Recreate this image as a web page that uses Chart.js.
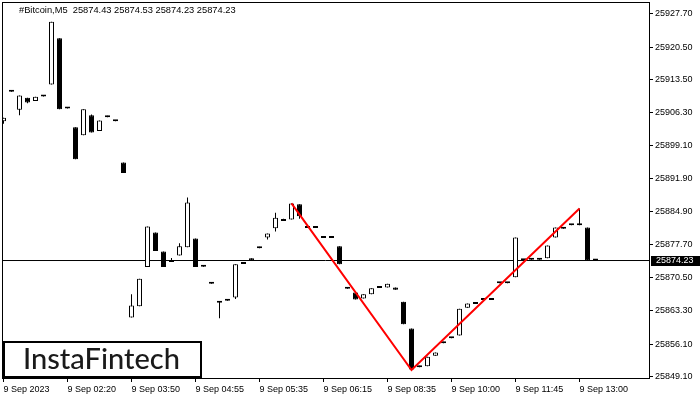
<!DOCTYPE html>
<html><head><meta charset="utf-8">
<script src="https://cdn.jsdelivr.net/npm/chart.js@4.4.0/dist/chart.umd.min.js"></script>
<style>html,body{margin:0;padding:0;background:#fff;}</style>
</head><body>
<canvas id="c" width="700" height="400"></canvas>
<script>
const symbol = '#Bitcoin,M5';
const brand = 'InstaFintech';
const timeLabels = ['9 Sep 2023','9 Sep 02:20','9 Sep 03:50','9 Sep 04:55','9 Sep 05:35','9 Sep 06:15','9 Sep 08:35','9 Sep 10:00','9 Sep 11:45','9 Sep 13:00'];
const barsPerLabel = 8;
const opens = [25904.4,25911.1,25906.9,25909.5,25908.8,25910.0,25912.4,25922.4,25907.5,25903.1,
  25901.4,25905.7,25902.3,25905.6,25904.7,25895.5,25861.9,25864.3,25872.8,25880.3,
  25876.2,25874.2,25875.3,25877.1,25879.0,25873.2,25869.5,25865.4,25865.8,25866.2,
  25873.8,25874.7,25877.2,25879.2,25881.2,25883.0,25883.1,25886.4,25881.5,25881.5,
  25879.3,25879.3,25877.3,25868.3,25867.3,25866.0,25866.9,25868.6,25868.4,25868.4,
  25865.3,25859.5,25851.4,25851.3,25853.6,25856.6,25857.6,25858.0,25864.0,25865.0,
  25865.9,25865.9,25869.5,25869.5,25870.6,25874.5,25874.6,25874.6,25874.7,25879.2,
  25881.4,25882.1,25882.1,25881.4,25874.43];
const closes = [25905.2,25910.8,25910.0,25908.5,25909.7,25909.8,25926.0,25907.0,25907.2,25896.2,
  25907.0,25902.0,25904.6,25905.3,25904.4,25893.2,25864.5,25870.3,25881.6,25876.3,
  25872.8,25873.9,25877.3,25886.8,25872.8,25872.9,25869.2,25865.1,25865.5,25873.4,
  25873.5,25874.2,25876.9,25880.1,25883.5,25882.8,25886.6,25883.8,25881.3,25881.3,
  25879.1,25879.1,25873.4,25868.1,25865.8,25866.9,25868.2,25868.3,25869.2,25867.9,
  25860.4,25850.6,25851.1,25853.4,25854.3,25856.3,25857.4,25863.8,25864.9,25864.8,
  25865.7,25865.7,25869.3,25869.3,25879.2,25874.3,25874.4,25874.4,25877.5,25881.4,
  25881.1,25881.9,25881.9,25874.2,25874.23];
const highs = [25905.2,25911.1,25910.0,25909.5,25909.7,25910.0,25926.0,25922.4,25907.5,25903.1,
  25907.0,25905.9,25904.6,25905.6,25904.7,25895.5,25866.9,25870.3,25881.6,25880.3,
  25876.2,25874.8,25878.0,25887.9,25879.0,25873.2,25869.5,25865.4,25865.8,25873.4,
  25873.8,25874.7,25877.2,25880.1,25884.6,25883.3,25886.6,25886.4,25881.5,25881.5,
  25879.3,25879.3,25877.3,25868.3,25867.3,25866.9,25868.2,25868.6,25869.2,25868.4,
  25865.3,25859.5,25851.4,25853.4,25854.3,25856.6,25857.6,25863.8,25864.9,25865.0,
  25865.9,25865.9,25869.5,25869.5,25879.2,25874.5,25874.6,25874.6,25877.5,25881.4,
  25881.4,25882.1,25885.5,25881.4,25874.53];
const lows = [25903.9,25910.8,25905.7,25908.3,25908.8,25909.8,25912.4,25907.0,25907.2,25896.2,
  25901.4,25902.0,25902.3,25905.3,25904.4,25893.2,25861.9,25864.3,25872.8,25876.3,
  25872.8,25873.9,25875.3,25877.1,25872.8,25872.9,25869.2,25861.7,25865.5,25865.9,
  25873.5,25874.2,25876.9,25878.8,25880.5,25882.8,25883.1,25883.3,25881.3,25881.3,
  25879.1,25879.1,25873.4,25868.1,25865.8,25866.0,25866.9,25868.3,25868.4,25867.9,
  25860.4,25850.6,25851.1,25851.3,25853.6,25856.3,25857.4,25858.0,25864.0,25864.8,
  25865.7,25865.7,25869.3,25869.3,25870.6,25874.3,25874.4,25874.4,25874.7,25879.2,
  25881.1,25881.9,25881.9,25874.2,25874.23];
const yTickValues = [25927.70,25920.50,25913.50,25906.30,25899.10,25891.90,25884.90,25877.70,25870.50,25863.30,25856.10,25849.10];
const patternIdx = [36,51,72];
const patternVals = [25886.6,25850.5,25885.5];
const yRange = [25848.77, 25930.26];
const xRange = [-0.1875, 80.6875];

const n = opens.length;
const last = n - 1;
const bodyData = opens.map((o,i)=>({x:i, y:[o, closes[i]]}));
const wickData = lows.map((l,i)=>({x:i, y:[l, highs[i]]}));
const bodyFill = opens.map((o,i)=> closes[i] >= o ? '#ffffff' : '#000000');
const FONT = 'Liberation Sans, Arial, sans-serif';

const decor = {
  id:'decor',
  beforeDraw(chart){
    const ctx = chart.ctx; ctx.save(); ctx.fillStyle='#fff'; ctx.fillRect(0,0,chart.width,chart.height); ctx.restore();
  },
  afterDraw(chart){
    const {ctx, chartArea:a, scales:{y}} = chart;
    ctx.save();
    ctx.strokeStyle='#000'; ctx.lineWidth=1;
    ctx.strokeRect(a.left+0.5, a.top+0.5, a.right-a.left, a.bottom-a.top);
    ctx.fillStyle='#000'; ctx.font='9.3px '+FONT; ctx.textBaseline='middle'; ctx.textAlign='left';
    const t = symbol+'  '+[opens[last],highs[last],lows[last],closes[last]].map(v=>v.toFixed(2)).join(' ');
    ctx.fillText(t, 19, 10.5);
    const py = Math.round(y.getPixelForValue(closes[last]));
    ctx.fillStyle='#000'; ctx.fillRect(a.right+2, py-5, chart.width-a.right-2, 10);
    ctx.fillStyle='#fff'; ctx.font='9px '+FONT; ctx.fillText(closes[last].toFixed(2), a.right+7, py);
    ctx.fillStyle='#fff'; ctx.fillRect(3,341,199,37);
    ctx.strokeStyle='#000'; ctx.lineWidth=2; ctx.strokeRect(4,342,197,35);
    ctx.fillStyle='#1a1a1a';
    let fs = 26; ctx.font = '500 '+fs+'px Lato, Inter, sans-serif';
    const w = ctx.measureText(brand).width; fs = fs*157/w;
    ctx.font = '500 '+fs.toFixed(2)+'px Lato, Inter, sans-serif';
    ctx.textAlign='left'; ctx.textBaseline='middle';
    ctx.fillText(brand, 23, 360);
    ctx.restore();
  }
};

new Chart(document.getElementById('c'), {
  type:'bar',
  data:{ datasets:[
    { type:'line', data: patternIdx.map((k,i)=>({x:k, y:patternVals[i]})), borderColor:'#ff0000', borderWidth:2, pointRadius:0, order:0, tension:0 },
    { type:'bar', data: bodyData, backgroundColor: bodyFill, borderColor:'#000', borderWidth:1, borderSkipped:false, barThickness:5, minBarLength:2, grouped:false, inflateAmount:0, order:1 },
    { type:'bar', data: wickData, backgroundColor:'#000', borderWidth:0, barThickness:1, grouped:false, inflateAmount:0, order:2 },
    { type:'line', data: [{x:xRange[0], y:closes[last]},{x:xRange[1], y:closes[last]}], borderColor:'#000', borderWidth:1, pointRadius:0, order:3 }
  ]},
  options:{
    responsive:false, animation:false, devicePixelRatio:1,
    layout:{ padding:{left:2, top:2, right:0, bottom:0} },
    plugins:{ legend:{display:false}, tooltip:{enabled:false}, title:{display:false} },
    scales:{
      x:{ type:'linear', min:xRange[0], max:xRange[1], offset:false,
        grid:{ offset:false, drawOnChartArea:false, drawTicks:true, tickLength:4, color:'#000' },
        border:{ display:false },
        afterBuildTicks: s => { s.ticks = timeLabels.map((_,i)=>({value:i*barsPerLabel})); },
        afterFit: s => { s.height = 22; s.paddingLeft = 0; s.paddingRight = 0; },
        ticks:{ align:'start', maxRotation:0, minRotation:0, autoSkip:false, padding:2, color:'#000',
          font:{family:FONT, size:9}, callback:(v,i)=>timeLabels[i] }
      },
      y:{ type:'linear', position:'right', min:yRange[0], max:yRange[1], beginAtZero:false,
        grid:{ drawOnChartArea:false, drawTicks:true, tickLength:4, color:'#000' },
        border:{ display:false },
        afterBuildTicks: s => { s.ticks = yTickValues.map(v=>({value:v})); },
        afterFit: s => { s.width = 51; s.paddingTop = 0; s.paddingBottom = 0; },
        ticks:{ padding:2, color:'#000', font:{family:FONT, size:9}, callback: v => Number(v).toFixed(2) }
      }
    }
  },
  plugins:[decor]
});
</script>
</body></html>
